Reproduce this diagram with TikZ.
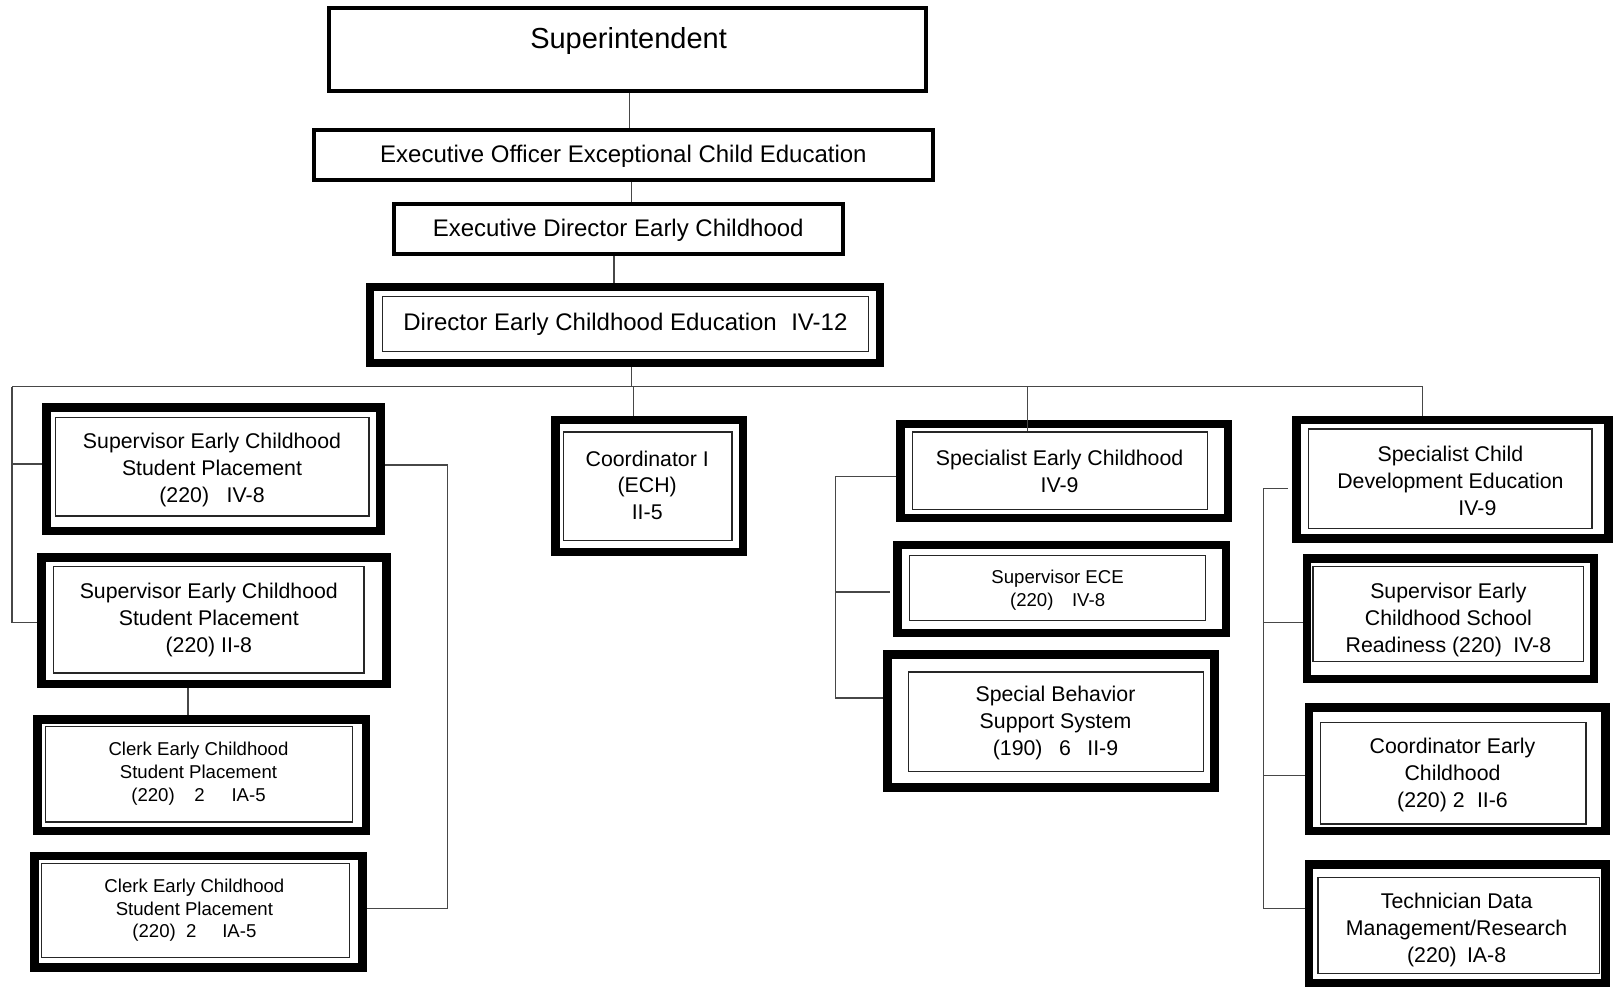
\documentclass[tikz,border=0pt]{standalone}
\usepackage{fontspec}
\setmainfont{Liberation Sans}
\usetikzlibrary{fit}
\newcommand{\gap}[1]{\hspace*{#1pt}}
\tikzset{
  thinframe/.style={draw=black, line width=4pt, inner sep=0pt},
  heavyframe/.style={draw=black, line width=8.5pt, inner sep=0pt},
  innerframe/.style={draw=black!85, line width=1.3pt, inner sep=0pt},
  conn/.style={draw=black!72, line width=1.5pt},
  label/.style={inner sep=0pt, align=center, yshift=-2.5pt},
  bigtxt/.style={label, font=\fontsize{24}{30}\selectfont},
  midtxt/.style={label, font=\fontsize{21.3}{26.9}\selectfont},
  smalltxt/.style={label, font=\fontsize{18.6}{22.7}\selectfont},
}
\begin{document}
\begin{tikzpicture}[x=1pt, y=-1pt]
\useasboundingbox[fill=white] (0,0) rectangle (1621,987);

% top of the chain
\node (sup) [thinframe, fit={(328.7,8) (926.4,91)}] {};
\node (suptxt) [label, font=\fontsize{29}{34}\selectfont] at (628.6,38.5) {Superintendent};
\node (eo) [thinframe, fit={(314.2,130.2) (932.6,179.9)}] {};
\node (eotxt) [bigtxt] at (623.4,154) {Executive Officer Exceptional Child Education};
\node (ed) [thinframe, fit={(393.8,203.6) (842.6,254.4)}] {};
\node (edtxt) [bigtxt] at (618.2,227.4) {Executive Director Early Childhood};
\node (dir) [heavyframe, fit={(370,287) (880,363)}] {};
\node (diri) [innerframe, fit={(382.7,296.7) (868.4,351.7)}] {};
\node (dirtxt) [bigtxt] at (625.4,321.5) {Director Early Childhood Education\gap{14.5}IV-12};

% left column
\node (l1) [heavyframe, fit={(46.5,407.6) (380.3,531.2)}] {};
\node (l1i) [innerframe, fit={(55.8,417.7) (369,515.9)}] {};
\node (l1t) [midtxt] at (212,467.3) {Supervisor Early Childhood\\Student Placement\\(220)\gap{17.6}IV-8};
\node (l2) [heavyframe, fit={(41.5,557.4) (386.5,684.2)}] {};
\node (l2i) [innerframe, fit={(53.8,566.5) (363.9,673)}] {};
\node (l2t) [midtxt] at (208.8,617.2) {Supervisor Early Childhood\\Student Placement\\(220) II-8};
\node (l3) [heavyframe, fit={(37.4,719.7) (365.8,831)}] {};
\node (l3i) [innerframe, fit={(45.5,726.8) (352.5,821.9)}] {};
\node (l3t) [smalltxt] at (198.5,771.2) {Clerk Early Childhood\\Student Placement\\(220)\gap{19.6}2\gap{26.9}IA-5};
\node (l4) [heavyframe, fit={(34.3,856.2) (362.7,967.5)}] {};
\node (l4i) [innerframe, fit={(41.4,863.2) (349.4,957.3)}] {};
\node (l4t) [smalltxt] at (194.4,907.7) {Clerk Early Childhood\\Student Placement\\(220)\gap{10.3}2\gap{25.8}IA-5};

% centre
\node (co) [heavyframe, fit={(555.3,419.9) (743.1,551.9)}] {};
\node (coi) [innerframe, fit={(563.4,432.1) (731.9,540.7)}] {};
\node (cot) [midtxt] at (647.2,482.8) {Coordinator I\\(ECH)\\II-5};

% specialist column
\node (s1) [heavyframe, fit={(900.6,424) (1228,517.8)}] {};
\node (s1i) [innerframe, fit={(912.8,432.1) (1207.5,509.7)}] {};
\node (s1t) [midtxt] at (1059.6,468.8) {Specialist Early Childhood\\IV-9};
\node (s2) [heavyframe, fit={(897.6,545) (1225.9,633)}] {};
\node (s2i) [innerframe, fit={(909.7,555.2) (1205.4,620.3)}] {};
\node (s2t) [smalltxt] at (1057.6,587.7) {Supervisor ECE\\(220)\gap{18.6}IV-8};
\node (s3) [heavyframe, fit={(887.6,654.3) (1214.6,787.6)}] {};
\node (s3i) [innerframe, fit={(908.7,672) (1203.3,771.2)}] {};
\node (s3t) [midtxt] at (1055.5,720.6) {Special Behavior\\Support System\\(190)\gap{16.5}6\gap{16.5}II-9};

% right column
\node (r1) [heavyframe, fit={(1296.6,419.9) (1608.4,538.4)}] {};
\node (r1i) [innerframe, fit={(1308.8,429) (1592,528.3)}] {};
\node (r1t) [midtxt] at (1450.4,478.7) {Specialist Child\\Development Education\\\gap{54}IV-9};
\node (r2) [heavyframe, fit={(1306.9,558.4) (1594,679)}] {};
\node (r2i) [innerframe, fit={(1313,566.5) (1583.8,661.6)}] {};
\node (r2t) [midtxt] at (1448.4,617.2) {Supervisor Early\\Childhood School\\Readiness (220)\gap{11.4}IV-8};
\node (r3) [heavyframe, fit={(1309,707.3) (1605.3,831)}] {};
\node (r3i) [innerframe, fit={(1320.2,722.6) (1585.9,824)}] {};
\node (r3t) [midtxt] at (1452.5,772.3) {Coordinator Early\\Childhood\\(220) 2\gap{12.4}II-6};
\node (r4) [heavyframe, fit={(1309,864.4) (1605.3,983)}] {};
\node (r4i) [innerframe, fit={(1318.1,877.7) (1599.3,973.8)}] {};
\node (r4t) [midtxt] at (1456.6,927.3) {Technician Data\\Management/Research\\(220)\gap{10.3}IA-8};

% connectors of the chain
\draw[conn] (sup.south -| 629.6,0) -- (eo.north -| 629.6,0);
\draw[conn] (eo.south -| 631.6,0) -- (ed.north -| 631.6,0);
\draw[conn] (ed.south -| 614,0) -- (dir.north -| 614,0);
\coordinate (busL) at (12,386.7);
\coordinate (busR) at (1422.5,386.7);
\draw[conn] (dir.south -| 631.6,0) -- (busL -| 631.6,0);
\draw[conn] (busL) -- (busR);

% drops from the bus
\draw[conn] (busL) |- (l2.west |- 0,622.4);
\draw[conn] (busL |- 0,464.2) -- (l1.west |- 0,464.2);
\draw[conn] (busL -| 633.7,0) -- (co.north -| 633.7,0);
\draw[conn] (busL -| 1027.6,0) -- (s1i.north -| 1027.6,0);
\draw[conn] (busR) -- (r1.north -| busR);

% left column links
\coordinate (lrun) at (447.6,908.7);
\draw[conn] (l1.east |- 0,465.2) -| (lrun) -- (l4.east |- lrun);
\draw[conn] (l2.south -| 188.2,0) -- (l3.north -| 188.2,0);

% specialist links
\coordinate (sspine) at (835.7,697.8);
\coordinate (s2stub) at (890,592);
\draw[conn] (s1.west |- 0,476.6) -| (sspine) -- (s3.west |- sspine);
\draw[conn] (sspine |- s2stub) -- (s2stub);

% right column links
\coordinate (rspine) at (1263.3,908.7);
\coordinate (r1stub) at (1287.7,488.3);
\draw[conn] (r1stub) -| (rspine) -- (r4.west |- rspine);
\draw[conn] (rspine |- 0,622.4) -- (r2.west |- 0,622.4);
\draw[conn] (rspine |- 0,775.3) -- (r3.west |- 0,775.3);
\end{tikzpicture}
\end{document}
